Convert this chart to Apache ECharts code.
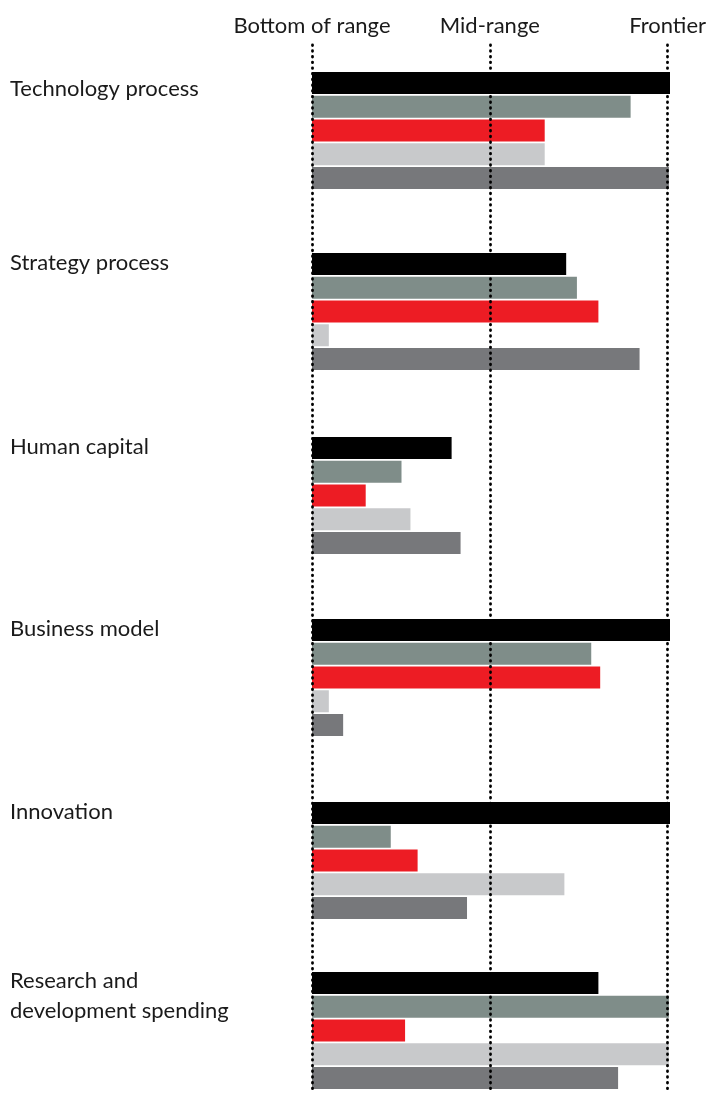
<!DOCTYPE html>
<html>
<head>
<meta charset="utf-8">
<script src="https://cdn.jsdelivr.net/npm/echarts@6/dist/echarts.min.js"></script>
<style>
html,body{margin:0;padding:0;background:#fff;}
#chart{width:709px;height:1093px;}
</style>
</head>
<body>
<div id="chart"></div>
<script>
// ---- data ----
const categories = ['Technology process', 'Strategy process', 'Human capital', 'Business model', 'Innovation', 'Research and\ndevelopment spending'];
const seriesNames = ['Series 1', 'Series 2', 'Series 3', 'Series 4', 'Series 5'];
const series1 = [100, 71, 39, 100, 100, 80];
const series2 = [89, 74, 25, 78, 22, 99.7];
const series3 = [65, 80, 15, 80.5, 29.5, 26];
const series4 = [65, 4.7, 27.5, 4.7, 70.5, 99.7];
const series5 = [99.7, 91.5, 41.5, 8.7, 43.3, 85.5];
const tickValues = [0, 50, 100];
const tickLabels = ['Bottom of range', 'Mid-range', 'Frontier'];

// ---- layout / style ----
const allSeries = [series1, series2, series3, series4, series5];
const colors = ['#000000', '#7f8d89', '#ed1c24', '#c8c9cb', '#77787b'];
const groupTops = [72, 253, 437, 619, 802, 972];
const labelCenters = [89, 263, 447, 629, 812, 996];
const groupHeight = 117;
const FONT = 'Lato, "Liberation Sans", sans-serif';
const FS = 22;

const chart = echarts.init(document.getElementById('chart'), null, {renderer: 'canvas'});

const grids = [], xAxes = [], yAxes = [], series = [], graphics = [];
categories.forEach((cat, gi) => {
  grids.push({left: 312, right: 39, top: groupTops[gi], height: groupHeight});
  xAxes.push({gridIndex: gi, type: 'value', min: 0, max: 100, show: false});
  yAxes.push({gridIndex: gi, type: 'category', data: [cat], inverse: true, show: false});
  allSeries.forEach((vals, si) => {
    series.push({
      type: 'bar', name: seriesNames[si], xAxisIndex: gi, yAxisIndex: gi,
      data: [vals[gi]], barWidth: 22, barGap: '8%',
      itemStyle: {color: colors[si]}, silent: true, z: 2
    });
  });
  graphics.push({
    type: 'text', left: 10, top: labelCenters[gi] - (cat.includes('\n') ? 30 : 15),
    style: {text: cat, font: FS + 'px ' + FONT, fill: '#1a1a1a', lineHeight: 30}
  });
});

// overlay grid for dotted reference lines + top labels
const og = categories.length;
grids.push({left: 312, right: 39, top: 45, bottom: 0});
xAxes.push({
  gridIndex: og, type: 'value', min: 0, max: 100, interval: 50, position: 'top', z: 10,
  axisLine: {show: false}, axisTick: {show: false},
  axisLabel: {
    show: true, margin: 8, color: '#1a1a1a', fontSize: FS, fontFamily: FONT,
    showMinLabel: true, showMaxLabel: true, hideOverlap: false,
    formatter: v => tickLabels[tickValues.indexOf(v)] || ''
  },
  splitLine: {show: true, lineStyle: {color: '#000', width: 2.8, type: [0.6, 5.1], cap: 'round'}}
});
yAxes.push({gridIndex: og, type: 'value', show: false, min: 0, max: 1});

chart.setOption({
  animation: false,
  backgroundColor: '#ffffff',
  grid: grids, xAxis: xAxes, yAxis: yAxes, series: series,
  graphic: graphics
});
</script>
</body>
</html>
